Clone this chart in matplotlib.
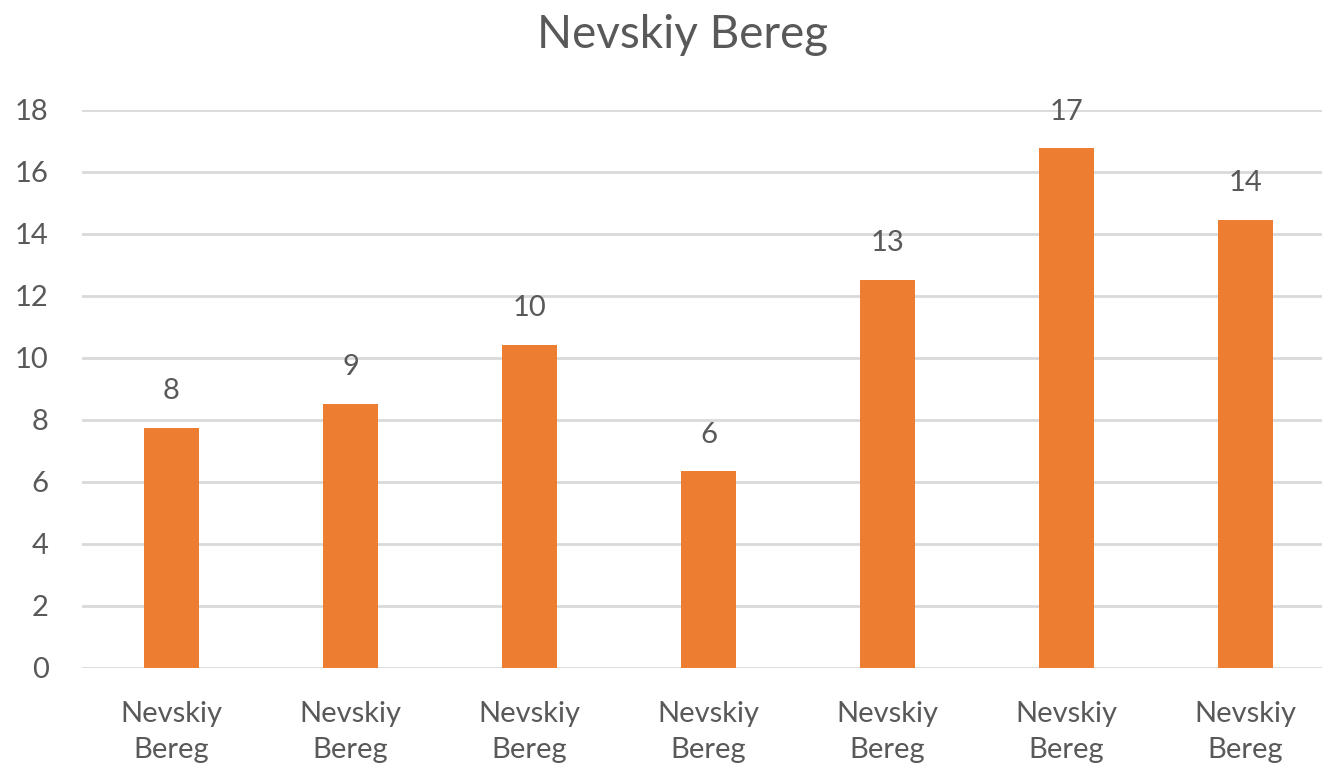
import matplotlib.pyplot as plt

# data
categories = ['Nevskiy\nBereg'] * 7
values = [7.75, 8.52, 10.42, 6.35, 12.52, 16.77, 14.45]
yticks = [0, 2, 4, 6, 8, 10, 12, 14, 16, 18]

text_col = '#595959'
bar_col = '#ED7D31'
grid_col = '#D9D9D9'

plt.rcParams['font.family'] = ['Lato', 'DejaVu Sans']

fig = plt.figure(figsize=(13.22, 7.71), dpi=100)
# plot area runs past the right edge of the picture (cropped source)
ax = fig.add_axes([82/1322, 103/771, (1335-82)/1322, (668-110)/771])

x = list(range(len(values)))
bars = ax.bar(x, values, width=0.31, color=bar_col, zorder=3)

# data labels, rounded like the source
for xi, v in zip(x, values):
    ax.annotate(f'{v:.0f}', (xi, v), xytext=(0, 17), textcoords='offset points',
                ha='center', va='bottom', fontsize=21, color=text_col)

ax.set_xlim(-0.5, len(values) - 0.5)
ax.set_ylim(0, 18)
ax.set_yticks(yticks)
ax.set_xticks(x)
ax.set_xticklabels(categories, linespacing=1.45)
ax.yaxis.grid(True, color=grid_col, linewidth=2, zorder=0)
ax.tick_params(axis='both', length=0, labelsize=21, labelcolor=text_col)
ax.tick_params(axis='x', pad=24)
ax.tick_params(axis='y', pad=24)
for s in ax.spines.values():
    s.set_visible(False)

fig.text(683/1322, 1 - 35/771, 'Nevskiy Bereg', ha='center', va='center',
         fontsize=33, color=text_col)

fig.savefig('out.png', dpi=100)
